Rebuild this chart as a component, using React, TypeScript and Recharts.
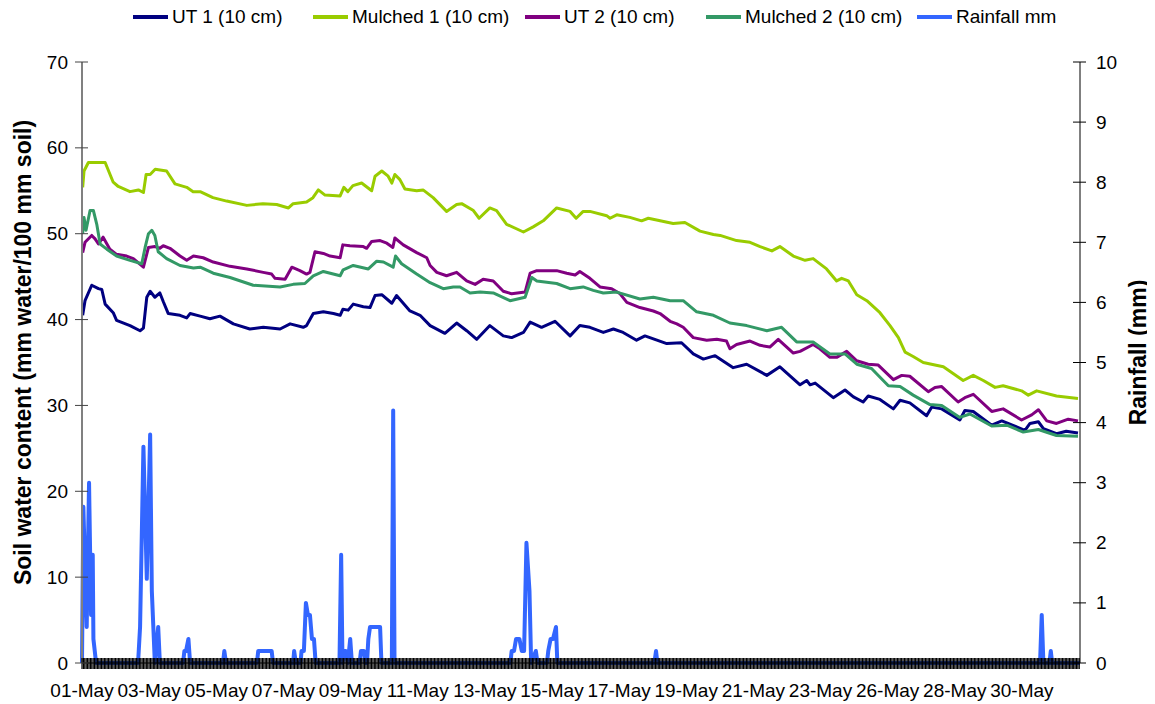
import React from 'react';
import { LineChart, Line, XAxis, YAxis, Legend } from 'recharts';

// date labels shown every second day along the bottom axis
const xLabels = [
  '01-May', '03-May', '05-May', '07-May', '09-May', '11-May', '13-May', '15-May',
  '17-May', '19-May', '21-May', '23-May', '26-May', '28-May', '30-May',
];

// [day since start, mm water / 100 mm soil]
const ut1: [number, number][] = [
  [0.02, 40.5], [0.09, 42.2], [0.29, 44.0], [0.49, 43.6], [0.59, 43.5], [0.69, 41.8], [0.93, 40.8],
  [1.03, 39.9], [1.43, 39.3], [1.73, 38.7], [1.83, 39.0], [1.93, 42.6], [2.03, 43.3], [2.17, 42.6],
  [2.32, 43.1], [2.42, 42.1], [2.57, 40.7], [2.92, 40.5], [3.12, 40.2], [3.22, 40.7], [3.52, 40.4],
  [3.81, 40.1], [4.11, 40.4], [4.51, 39.5], [5.0, 38.9], [5.4, 39.1], [5.9, 38.9], [6.2, 39.5],
  [6.59, 39.1], [6.69, 39.3], [6.89, 40.7], [7.19, 40.9], [7.49, 40.7], [7.69, 40.5], [7.77, 41.2],
  [7.93, 41.1], [8.08, 41.8], [8.38, 41.5], [8.58, 41.4], [8.73, 42.8], [8.93, 42.9], [9.23, 41.9],
  [9.37, 42.8], [9.77, 41.0], [10.07, 40.5], [10.37, 39.3], [10.81, 38.4], [11.16, 39.6], [11.46, 38.7],
  [11.76, 37.7], [12.15, 39.3], [12.55, 38.1], [12.8, 37.9], [13.15, 38.5], [13.35, 39.7], [13.69, 39.1],
  [14.09, 39.8], [14.54, 38.1], [14.83, 39.3], [15.13, 39.1], [15.53, 38.5], [15.83, 38.9], [16.12, 38.5],
  [16.52, 37.6], [16.77, 38.1], [17.42, 37.2], [17.86, 37.3], [18.21, 36.0], [18.51, 35.4], [18.86, 35.8],
  [19.4, 34.4], [19.8, 34.8], [20.4, 33.5], [20.79, 34.5], [21.39, 32.4], [21.59, 32.9], [21.69, 32.4],
  [21.84, 32.6], [22.38, 30.9], [22.73, 31.8], [22.98, 31.0], [23.27, 30.4], [23.42, 31.1], [23.77, 30.7],
  [24.17, 29.6], [24.37, 30.6], [24.66, 30.3], [25.16, 28.8], [25.31, 29.8], [25.61, 29.6], [26.15, 28.3],
  [26.3, 29.4], [26.55, 29.3], [27.1, 27.7], [27.4, 28.2], [28.09, 27.1], [28.24, 27.9], [28.49, 28.1],
  [28.64, 27.3], [29.03, 26.7], [29.32, 27.0], [29.67, 26.8],
];

const mulched1: [number, number][] = [
  [0.02, 55.4], [0.06, 57.3], [0.19, 58.3], [0.69, 58.3], [0.93, 56.0], [1.08, 55.5], [1.43, 54.9],
  [1.68, 55.1], [1.83, 54.8], [1.91, 56.9], [2.03, 56.9], [2.18, 57.5], [2.52, 57.3], [2.77, 55.8],
  [3.12, 55.4], [3.31, 54.9], [3.52, 54.9], [3.9, 54.2], [4.31, 53.8], [4.91, 53.3], [5.39, 53.5],
  [5.8, 53.4], [6.15, 53.0], [6.29, 53.5], [6.69, 53.7], [6.88, 54.2], [7.04, 55.1], [7.24, 54.5],
  [7.69, 54.4], [7.8, 55.4], [7.92, 54.9], [8.07, 55.6], [8.33, 55.9], [8.63, 55.0], [8.73, 56.7],
  [8.93, 57.3], [9.12, 56.7], [9.23, 55.9], [9.32, 56.9], [9.47, 56.3], [9.62, 55.2], [9.97, 55.0],
  [10.16, 55.1], [10.46, 54.2], [10.86, 52.6], [11.16, 53.4], [11.31, 53.5], [11.66, 52.7], [11.83, 51.8],
  [12.15, 53.0], [12.35, 52.7], [12.65, 51.1], [13.15, 50.2], [13.44, 50.8], [13.74, 51.5], [14.14, 53.0],
  [14.54, 52.6], [14.72, 51.8], [14.93, 52.6], [15.13, 52.6], [15.63, 52.1], [15.73, 51.8], [15.93, 52.2],
  [16.32, 51.9], [16.67, 51.5], [16.87, 51.8], [17.61, 51.2], [17.96, 51.3], [18.41, 50.3], [18.81, 49.9],
  [19.01, 49.8], [19.5, 49.2], [19.9, 49.0], [20.2, 48.5], [20.55, 48.0], [20.79, 48.5], [21.19, 47.4],
  [21.54, 46.9], [21.78, 47.1], [22.18, 45.9], [22.48, 44.5], [22.63, 44.8], [22.83, 44.5], [23.08, 42.9],
  [23.38, 42.2], [23.77, 40.8], [24.07, 39.3], [24.32, 37.9], [24.52, 36.2], [24.76, 35.7], [25.06, 35.0],
  [25.41, 34.7], [25.66, 34.5], [25.96, 33.7], [26.25, 32.9], [26.55, 33.5], [26.85, 32.9], [27.2, 32.1],
  [27.44, 32.3], [27.99, 31.7], [28.19, 31.2], [28.44, 31.7], [29.03, 31.1], [29.67, 30.8],
];

const ut2: [number, number][] = [
  [0.02, 47.8], [0.09, 49.0], [0.29, 49.8], [0.39, 49.4], [0.49, 48.8], [0.63, 49.6], [0.83, 48.2],
  [1.03, 47.6], [1.33, 47.4], [1.53, 47.1], [1.83, 46.1], [1.98, 48.4], [2.17, 48.5], [2.32, 48.3],
  [2.42, 48.6], [2.62, 48.3], [2.92, 47.4], [3.12, 46.9], [3.32, 47.4], [3.61, 47.2], [3.91, 46.7],
  [4.41, 46.2], [4.91, 45.9], [5.4, 45.5], [5.65, 45.3], [5.75, 44.8], [6.05, 44.7], [6.25, 46.1],
  [6.49, 45.7], [6.69, 45.3], [6.79, 45.5], [6.94, 47.9], [7.19, 47.7], [7.39, 47.4], [7.69, 47.2],
  [7.77, 48.7], [7.98, 48.6], [8.38, 48.5], [8.48, 48.3], [8.63, 49.1], [8.88, 49.2], [9.08, 48.9],
  [9.26, 48.4], [9.32, 49.5], [9.57, 48.7], [9.97, 47.8], [10.27, 47.2], [10.37, 46.3], [10.57, 45.5],
  [10.86, 45.1], [11.16, 45.5], [11.46, 44.5], [11.71, 44.1], [11.95, 44.7], [12.25, 44.5], [12.55, 43.3],
  [12.8, 43.0], [13.2, 43.2], [13.35, 45.4], [13.55, 45.7], [14.14, 45.7], [14.44, 45.4], [14.69, 45.2],
  [14.83, 45.6], [15.13, 44.8], [15.43, 43.8], [15.78, 43.6], [16.03, 43.0], [16.23, 42.0], [16.62, 41.4],
  [17.02, 41.0], [17.22, 40.7], [17.52, 39.8], [17.72, 39.5], [17.91, 39.1], [18.21, 37.9], [18.61, 37.6],
  [18.91, 37.7], [19.2, 37.5], [19.3, 36.6], [19.5, 37.1], [19.9, 37.5], [20.2, 37.0], [20.49, 36.8],
  [20.74, 37.7], [21.19, 36.1], [21.39, 36.3], [21.78, 37.1], [21.98, 36.6], [22.28, 35.6], [22.48, 35.6],
  [22.78, 36.3], [23.08, 35.2], [23.42, 34.8], [23.72, 34.7], [24.17, 33.0], [24.42, 33.5], [24.66, 33.4],
  [25.21, 31.6], [25.41, 32.1], [25.61, 32.2], [26.1, 30.4], [26.3, 30.9], [26.55, 31.3], [27.1, 29.3],
  [27.44, 29.6], [27.99, 28.3], [28.29, 28.9], [28.49, 29.5], [28.74, 28.2], [29.03, 27.9], [29.38, 28.4],
  [29.67, 28.2],
];

const mulched2: [number, number][] = [
  [0.02, 50.0], [0.06, 51.9], [0.12, 50.4], [0.24, 52.7], [0.34, 52.7], [0.44, 51.1], [0.54, 48.8],
  [0.74, 48.2], [1.03, 47.4], [1.43, 46.9], [1.78, 46.5], [1.88, 48.4], [1.98, 50.0], [2.08, 50.4],
  [2.17, 49.8], [2.27, 47.9], [2.52, 47.1], [2.92, 46.3], [3.32, 46.0], [3.52, 46.1], [3.91, 45.4],
  [4.41, 44.9], [5.1, 44.0], [5.9, 43.8], [6.29, 44.1], [6.64, 44.2], [6.89, 45.1], [7.19, 45.6],
  [7.69, 45.1], [7.78, 45.8], [8.08, 46.3], [8.53, 45.9], [8.78, 46.8], [8.98, 46.7], [9.27, 46.1],
  [9.34, 47.4], [9.52, 46.5], [9.97, 45.3], [10.37, 44.3], [10.76, 43.6], [11.06, 43.8], [11.26, 43.8],
  [11.56, 43.1], [11.86, 43.2], [12.25, 43.1], [12.75, 42.2], [13.2, 42.6], [13.4, 44.9], [13.55, 44.5],
  [14.14, 44.2], [14.54, 43.6], [14.93, 43.8], [15.23, 43.4], [15.53, 43.1], [15.93, 43.2], [16.62, 42.4],
  [17.02, 42.6], [17.52, 42.2], [17.91, 42.2], [18.31, 40.9], [18.81, 40.5], [19.3, 39.6], [19.8, 39.3],
  [20.4, 38.7], [20.84, 39.1], [21.29, 37.4], [21.78, 37.4], [22.28, 36.0], [22.73, 36.0], [23.08, 34.8],
  [23.52, 34.3], [24.02, 32.3], [24.37, 32.2], [24.76, 31.2], [25.26, 30.1], [25.61, 30.0], [26.15, 28.6],
  [26.45, 29.0], [27.1, 27.6], [27.55, 27.7], [28.04, 26.9], [28.49, 27.2], [29.03, 26.5], [29.67, 26.4],
];

// [day since start, rainfall mm]
const rainfall: [number, number][] = [
  [0, 0], [0.04, 2.6], [0.14, 0.6], [0.21, 3.0], [0.27, 0.8], [0.32, 1.8], [0.34, 0.4], [0.42, 0],
  [1.67, 0], [1.73, 0.6], [1.83, 3.6], [1.93, 1.4], [2.03, 3.8], [2.08, 1.2], [2.17, 0], [2.27, 0.6], [2.32, 0],
  [3.01, 0], [3.05, 0.2], [3.1, 0.2], [3.17, 0.4], [3.22, 0],
  [4.2, 0], [4.24, 0.2], [4.29, 0],
  [5.21, 0], [5.25, 0.2], [5.65, 0.2], [5.69, 0],
  [6.29, 0], [6.32, 0.2], [6.37, 0],
  [6.51, 0], [6.54, 0.2], [6.61, 0.2], [6.67, 1.0], [6.73, 0.8], [6.79, 0.8], [6.85, 0.4], [6.91, 0.4], [6.96, 0],
  [7.67, 0], [7.72, 1.8], [7.76, 0], [7.8, 0.2], [7.86, 0.2], [7.92, 0], [7.99, 0.4], [8.04, 0],
  [8.27, 0], [8.31, 0.2], [8.4, 0.2], [8.44, 0],
  [8.49, 0], [8.53, 0.4], [8.58, 0.6], [8.88, 0.6], [8.92, 0],
  [9.23, 0], [9.27, 4.2], [9.31, 0],
  [12.76, 0], [12.8, 0.2], [12.87, 0.2], [12.93, 0.4], [13.03, 0.4], [13.1, 0.2], [13.17, 0.2],
  [13.24, 2.0], [13.33, 1.2], [13.38, 0], [13.52, 0.2], [13.57, 0],
  [13.85, 0], [13.89, 0.2], [13.96, 0.4], [14.03, 0.4], [14.12, 0.6], [14.16, 0],
  [17.05, 0], [17.1, 0.2], [17.14, 0],
  [28.54, 0], [28.59, 0.8], [28.64, 0], [28.82, 0], [28.86, 0.2], [28.9, 0], [29.73, 0],
];

const leftTicks = [0, 10, 20, 30, 40, 50, 60, 70];
const rightTicks = [0, 1, 2, 3, 4, 5, 6, 7, 8, 9, 10];

const FONT = '"Liberation Sans", Arial, sans-serif';
const DAY_MAX = 29.73;

// one tick mark per hourly reading, as on the original category axis
const hourTicks: number[] = [];
for (let i = 0; i < 714; i++) hourTicks.push(i / 24);

const toRows = (pts: [number, number][]) => pts.map(([day, v]) => ({ day, v }));

const series = [
  { name: 'UT 1 (10 cm)', color: '#000080', data: toRows(ut1) },
  { name: 'Mulched 1 (10 cm)', color: '#99CC00', data: toRows(mulched1) },
  { name: 'UT 2 (10 cm)', color: '#800080', data: toRows(ut2) },
  { name: 'Mulched 2 (10 cm)', color: '#339966', data: toRows(mulched2) },
];
const rainColor = '#3366FF';

const XTick = (props: any) => {
  const { x, y, payload } = props;
  const i = Math.round(payload.value * 24);
  return (
    <g>
      <line x1={x} x2={x} y1={y - 5} y2={y + 6} stroke="#000" strokeWidth={1.2} />
      {i % 48 === 0 && (
        <text x={x} y={y + 27} textAnchor="middle" dominantBaseline="central"
          fontSize={19} fontFamily={FONT} fill="#000">
          {xLabels[i / 48]}
        </text>
      )}
    </g>
  );
};

const LeftTick = (props: any) => {
  const { x, y, payload } = props;
  return (
    <g>
      <line x1={x - 7} x2={x + 6} y1={y} y2={y} stroke="#444" strokeWidth={1} />
      <text x={x - 14} y={y} textAnchor="end" dominantBaseline="central"
        fontSize={19} fontFamily={FONT} fill="#000">{payload.value}</text>
    </g>
  );
};

const RightTick = (props: any) => {
  const { x, y, payload } = props;
  return (
    <g>
      <line x1={x - 7} x2={x + 6} y1={y} y2={y} stroke="#000" strokeWidth={1} />
      <text x={x + 16} y={y} textAnchor="start" dominantBaseline="central"
        fontSize={19} fontFamily={FONT} fill="#000">{payload.value}</text>
    </g>
  );
};

const axisTitle = (text: string, dx: number) => (props: any) => {
  const vb = props.viewBox;
  const cx = vb.x + dx;
  const cy = vb.y + vb.height / 2 - 10;
  return (
    <text x={cx} y={cy} transform={`rotate(-90 ${cx} ${cy})`} textAnchor="middle"
      dominantBaseline="central" fontSize={23} fontWeight="bold" fontFamily={FONT} fill="#000">
      {text}
    </text>
  );
};

// legend slot widths so each swatch starts where the original one does
const legendSlots = [180, 212, 181, 211, 170];

const LegendBox = () => {
  const items = [...series.map((s) => ({ name: s.name, color: s.color })), { name: 'Rainfall mm', color: rainColor }];
  return (
    <div style={{ display: 'flex', alignItems: 'center', paddingLeft: 125, paddingTop: 0, height: 18, fontFamily: FONT, fontSize: 19, color: '#000' }}>
      {items.map((it, i) => (
        <div key={it.name} style={{ display: 'flex', alignItems: 'center', width: legendSlots[i], flex: 'none' }}>
          <span style={{ display: 'inline-block', width: 35, height: 4, background: it.color, marginRight: 4 }} />
          <span style={{ whiteSpace: 'nowrap' }}>{it.name}</span>
        </div>
      ))}
    </div>
  );
};

export default function App() {
  return (
    <div style={{ width: 1147, height: 696 }}>
      <LineChart width={1147} height={696} margin={{ top: 0, right: 0, bottom: 0, left: 0 }}>
        <Legend verticalAlign="top" height={54} wrapperStyle={{ top: 0, left: 0, width: 1147 }} content={() => <LegendBox />} />
        <XAxis
          type="number"
          dataKey="day"
          domain={[0, DAY_MAX]}
          ticks={hourTicks}
          interval={0}
          tick={<XTick />}
          tickLine={false}
          tickSize={0}
          tickMargin={0}
          height={41}
          axisLine={{ stroke: '#000' }}
        />
        <YAxis
          yAxisId="left"
          orientation="left"
          domain={[0, 70]}
          ticks={leftTicks}
          interval={0}
          width={74}
          tick={<LeftTick />}
          tickLine={false}
          tickSize={0}
          tickMargin={0}
          axisLine={{ stroke: '#808080', strokeWidth: 2 }}
          label={axisTitle('Soil water content (mm water/100 mm soil)', 15)}
        />
        <YAxis
          yAxisId="right"
          orientation="right"
          domain={[0, 10]}
          ticks={rightTicks}
          interval={0}
          width={75}
          tick={<RightTick />}
          tickLine={false}
          tickSize={0}
          tickMargin={0}
          axisLine={{ stroke: '#000' }}
          label={axisTitle('Rainfall (mm)', 58)}
        />
        <Line
          yAxisId="right"
          data={toRows(rainfall)}
          dataKey="v"
          name="Rainfall mm"
          type="linear"
          stroke={rainColor}
          strokeWidth={4}
          strokeLinejoin="round"
          dot={false}
          activeDot={false}
          isAnimationActive={false}
        />
        {series.map((s) => (
          <Line
            key={s.name}
            yAxisId="left"
            data={s.data}
            dataKey="v"
            name={s.name}
            type="linear"
            stroke={s.color}
            strokeWidth={3}
            strokeLinejoin="round"
            dot={false}
            activeDot={false}
            isAnimationActive={false}
          />
        ))}
      </LineChart>
    </div>
  );
}
